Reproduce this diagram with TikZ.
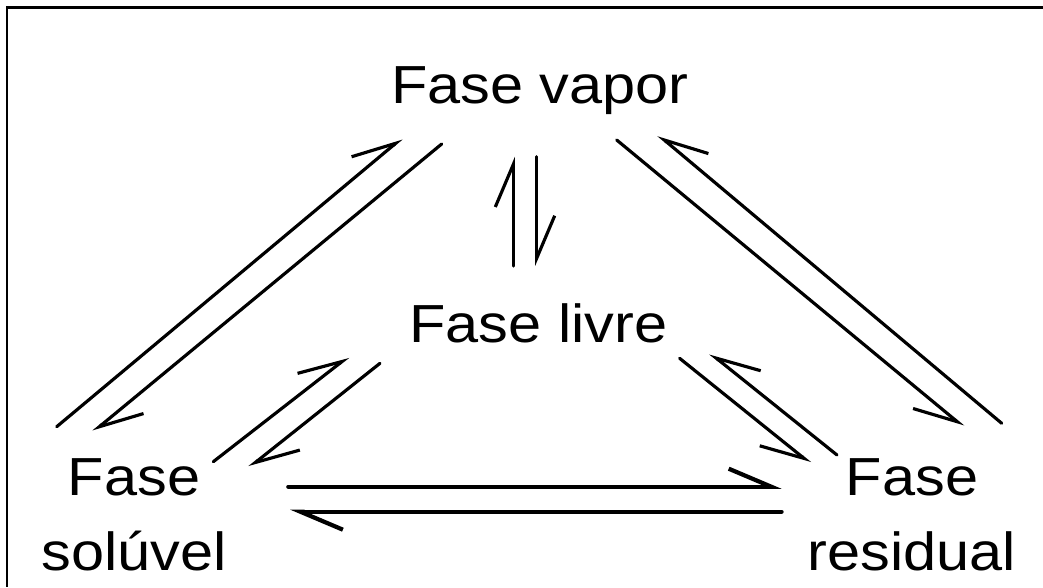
\documentclass[tikz,border=0pt]{standalone}
\usepackage{fontspec}
\setmainfont[FakeStretch=1.11]{Liberation Sans}
\usetikzlibrary{arrows.meta}

\begin{document}
\begin{tikzpicture}[
        fase/.style={anchor=base, align=center, inner sep=0pt, font=\fontsize{30.5}{42.5}\selectfont},
        eqL/.style={line width=1.8pt, line cap=round, -{Straight Barb[left, length=0.85cm, width=0.72cm]}},
        eqR/.style={line width=1.8pt, line cap=round, -{Straight Barb[right, length=0.85cm, width=0.72cm]}},
        heavy/.style={line width=2.4pt}
    ]
        \useasboundingbox (0,0) rectangle (20.86,11.74);
        % frame
        \draw[line width=1.6pt] (20.86,11.59) -- (0.14,11.59) -- (0.14,0);

        % nodes
        \node (vap) [fase] at (10.8,9.66) {Fase vapor};
        \node (liv) [fase] at (10.77,4.9) {Fase livre};
        \node (sol) [fase] at (2.68,0.34) {Fase\\solúvel};
        \node (res) [fase] at (18.24,0.34) {Fase\\residual};

        % edges
        \draw[eqL] ([shift={(-1.546,2.866)}]sol.base) -- ([shift={(-2.766,-0.686)}]vap.base);
        \draw[eqL] ([shift={(-1.966,-0.8)}]vap.base) -- ([shift={(-0.814,2.766)}]sol.base);
        \draw[eqR] ([shift={(1.534,-0.72)}]vap.base) -- ([shift={(1.026,2.866)}]res.base);
        \draw[eqR] ([shift={(1.794,2.934)}]res.base) -- ([shift={(2.366,-0.62)}]vap.base);

        \draw[eqL] ([shift={(-0.504,1.52)}]liv.base) -- ([shift={(-0.534,-1.054)}]vap.base);
        \draw[eqL] ([shift={(-0.066,-1.054)}]vap.base) -- ([shift={(-0.036,1.52)}]liv.base);

        \draw[eqL] ([shift={(1.586,2.166)}]sol.base) -- ([shift={(-3.804,-0.294)}]liv.base);
        \draw[eqL] ([shift={(-3.17,-0.426)}]liv.base) -- ([shift={(2.306,2.054)}]sol.base);
        \draw[eqR] ([shift={(2.822,-0.326)}]liv.base) -- ([shift={(-2.036,2.134)}]res.base);
        \draw[eqR] ([shift={(-1.5,2.3)}]res.base) -- ([shift={(3.434,-0.226)}]liv.base);

        \draw[eqL, heavy] ([shift={(3.086,1.666)}]sol.base) -- ([shift={(-2.608,1.666)}]res.base);
        \draw[eqL, heavy] ([shift={(-2.608,1.166)}]res.base) -- ([shift={(3.12,1.166)}]sol.base);
    \end{tikzpicture}
\end{document}
